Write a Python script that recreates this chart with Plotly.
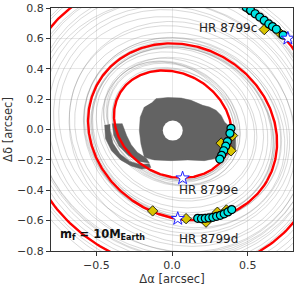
import numpy as np
import plotly.graph_objects as go

# ---------------- data ----------------
# fitted (red) projected orbits: centre x, centre y, semi-axis A, semi-axis B, tilt (deg)
red_cx = [0.005, 0.07, 0.0]
red_cy = [0.035, -0.015, 0.03]
red_A = [0.405, 0.645, 1.03]
red_B = [0.335, 0.56, 0.93]
red_th = [-30, -30, -33]

# sampled (grey) orbits
gray_A = [0.42, 0.44, 0.46, 0.43, 0.45, 0.47, 0.41, 0.49,
          0.63, 0.65, 0.62, 0.66, 0.60, 0.64, 0.67, 0.58, 0.61, 0.69,
          1.00, 1.05, 0.98, 1.08, 0.96, 1.02, 1.10, 0.94,
          0.75, 0.80, 0.85, 0.90, 0.72, 0.88, 0.78, 0.93, 0.55, 0.52]
gray_B = [0.35, 0.37, 0.38, 0.355, 0.37, 0.39, 0.34, 0.40,
          0.55, 0.57, 0.54, 0.575, 0.53, 0.56, 0.58, 0.51, 0.54, 0.60,
          0.90, 0.95, 0.88, 0.97, 0.87, 0.92, 1.00, 0.85,
          0.66, 0.70, 0.75, 0.80, 0.63, 0.78, 0.70, 0.82, 0.47, 0.45]
gray_cx = [0.01, 0.00, 0.01, 0.02, -0.01, 0.00, 0.01, 0.02,
           0.06, 0.05, 0.07, 0.08, 0.05, 0.06, 0.07, 0.04, 0.06, 0.08,
           0.00, 0.01, 0.00, 0.01, 0.02, -0.01, 0.01, 0.01,
           0.05, 0.03, 0.04, 0.02, 0.06, 0.03, 0.07, 0.01, 0.03, 0.04]
gray_cy = [0.04, 0.05, 0.04, 0.03, 0.05, 0.04, 0.03, 0.05,
           -0.01, 0.00, -0.02, -0.01, 0.00, -0.03, 0.00, 0.01, -0.01, -0.02,
           0.03, 0.02, 0.04, 0.02, 0.04, 0.03, 0.01, 0.03,
           0.00, 0.02, 0.01, 0.02, -0.01, 0.00, -0.02, 0.01, 0.02, 0.01]
gray_th = [-30, -28, -32, -25, -35, -30, -33, -27,
           -30, -28, -32, -26, -30, -34, -30, -28, -25, -32,
           -33, -30, -35, -32, -29, -36, -33, -31,
           -30, -28, -32, -30, -26, -34, -38, -24, -30, -27]

# stability region (test particles) outline
blob_x = [-0.128, -0.106, -0.028, 0.06, 0.126, 0.17, 0.203, 0.247, 0.291, 0.325, 0.347,
          0.40, 0.42, 0.42, 0.39, 0.325, 0.214, 0.104, -0.007, -0.117, -0.183,
          -0.205, -0.216, -0.21, -0.183]
blob_y = [0.181, 0.203, 0.21, 0.207, 0.192, 0.174, 0.159, 0.148, 0.126, 0.093, 0.049,
          0.0, -0.04, -0.13, -0.16, -0.183, -0.205, -0.2, -0.205, -0.2, -0.183,
          -0.095, -0.007, 0.081, 0.148]
tail1_x = [-0.445, -0.44, -0.40, -0.34, -0.27, -0.20, -0.14,
           -0.15, -0.21, -0.28, -0.345, -0.39, -0.41, -0.41]
tail1_y = [0.03, -0.06, -0.14, -0.20, -0.24, -0.26, -0.25,
           -0.225, -0.23, -0.21, -0.16, -0.09, -0.01, 0.035]
tail2_x = [-0.395, -0.385, -0.35, -0.29, -0.22, -0.15,
           -0.17, -0.23, -0.27, -0.30, -0.33]
tail2_y = [0.04, -0.04, -0.11, -0.17, -0.21, -0.22,
           -0.19, -0.15, -0.10, -0.04, 0.04]
hole_cx, hole_cy, hole_r = 0.005, -0.007, 0.066

# astrometry
c_x = [0.49, 0.52, 0.55, 0.58, 0.61, 0.64, 0.665, 0.69, 0.735]
c_y = [0.805, 0.785, 0.762, 0.74, 0.718, 0.695, 0.678, 0.66, 0.622]
d_x = [0.17, 0.195, 0.22, 0.245, 0.27, 0.295, 0.32, 0.345, 0.37, 0.395]
d_y = [-0.585, -0.587, -0.585, -0.582, -0.578, -0.572, -0.565, -0.555, -0.543, -0.527]
e_x = [0.39, 0.383, 0.366, 0.355, 0.342, 0.328, 0.316]
e_y = [0.008, -0.025, -0.08, -0.11, -0.14, -0.17, -0.195]

# predicted positions
dia_x = [0.51, 0.61, 0.715, -0.128, 0.093, 0.225, 0.30, 0.36, 0.40, 0.325, 0.39]
dia_y = [0.788, 0.658, 0.633, -0.536, -0.587, -0.61, -0.545, -0.53, -0.04, -0.09, -0.14]

# reference epoch positions
star_x = [0.07, 0.038, 0.766]
star_y = [-0.32, -0.587, 0.60]

labels = ["HR 8799c", "HR 8799e", "HR 8799d"]
label_x = [0.37, 0.24, 0.24]
label_y = [0.67, -0.40, -0.72]

x_ticks = [-0.5, 0.0, 0.5]
x_ticktext = ["\u22120.5", "0.0", "0.5"]
y_ticks = [-0.8, -0.6, -0.4, -0.2, 0.0, 0.2, 0.4, 0.6, 0.8]
y_ticktext = ["\u22120.8", "\u22120.6", "\u22120.4", "\u22120.2", "0.0", "0.2", "0.4", "0.6", "0.8"]


def ellipse(cx, cy, a, b, th_deg, n=361):
    t = np.linspace(0, 2 * np.pi, n)
    th = np.deg2rad(th_deg)
    x = cx + a * np.cos(t) * np.cos(th) - b * np.sin(t) * np.sin(th)
    y = cy + a * np.cos(t) * np.sin(th) + b * np.sin(t) * np.cos(th)
    return x, y


fig = go.Figure()

for i in range(len(gray_A)):
    x, y = ellipse(gray_cx[i], gray_cy[i], gray_A[i], gray_B[i], gray_th[i])
    fig.add_trace(go.Scatter(x=x, y=y, mode="lines", hoverinfo="skip",
                             line=dict(color="rgba(110,110,110,0.33)", width=0.8),
                             showlegend=False))

for bx, by in [(blob_x, blob_y), (tail1_x, tail1_y), (tail2_x, tail2_y)]:
    fig.add_trace(go.Scatter(x=bx, y=by, mode="lines", fill="toself",
                             fillcolor="#636363", line=dict(width=0.5, color="#636363"),
                             showlegend=False))

for i in range(len(red_A)):
    x, y = ellipse(red_cx[i], red_cy[i], red_A[i], red_B[i], red_th[i])
    fig.add_trace(go.Scatter(x=x, y=y, mode="lines",
                             line=dict(color="#ff0000", width=2.4),
                             showlegend=False))

fig.add_trace(go.Scatter(x=dia_x, y=dia_y, mode="markers",
                         marker=dict(symbol="diamond", size=8, color="#d8c400",
                                     line=dict(color="black", width=0.8)),
                         showlegend=False))

for xs, ys in [(c_x, c_y), (d_x, d_y), (e_x, e_y)]:
    fig.add_trace(go.Scatter(x=xs, y=ys, mode="markers",
                             marker=dict(symbol="circle", size=8, color="#00e4e4",
                                         line=dict(color="black", width=1.2)),
                             showlegend=False))

fig.add_trace(go.Scatter(x=star_x, y=star_y, mode="markers",
                         marker=dict(symbol="star", size=10, color="white",
                                     line=dict(color="#2020ff", width=1)),
                         showlegend=False))

for t, x, y in zip(labels, label_x, label_y):
    fig.add_annotation(x=x, y=y, text=t, showarrow=False,
                       font=dict(family="DejaVu Sans", size=12, color="#222"))

fig.add_annotation(x=-0.46, y=-0.69, text="<b>m<sub>f</sub> = 10M<sub>Earth</sub></b>",
                   showarrow=False, font=dict(family="DejaVu Sans", size=11.5, color="#111"))

fig.add_shape(type="circle", xref="x", yref="y",
              x0=hole_cx - hole_r, x1=hole_cx + hole_r,
              y0=hole_cy - hole_r, y1=hole_cy + hole_r,
              fillcolor="white", line=dict(width=0), layer="above")

axis_common = dict(showgrid=True, gridcolor="#e8e8e8", gridwidth=1, zeroline=False,
                   showline=True, mirror=True, linecolor="#333", linewidth=1,
                   ticks="outside", ticklen=4, tickcolor="#333", tickwidth=1,
                   tickfont=dict(family="DejaVu Sans", size=11, color="#333"),
                   tickmode="array", automargin=False)

fig.update_xaxes(range=[-0.8, 0.8], tickvals=x_ticks, ticktext=x_ticktext,
                 title=dict(text="\u0394\u03b1 [arcsec]", standoff=2,
                            font=dict(family="DejaVu Sans", size=11.5, color="#333")),
                 **axis_common)
fig.update_yaxes(range=[-0.8, 0.8], tickvals=y_ticks, ticktext=y_ticktext,
                 title=dict(text="\u0394\u03b4 [arcsec]", standoff=2,
                            font=dict(family="DejaVu Sans", size=11.5, color="#333")),
                 **axis_common)

fig.update_layout(width=300, height=287, margin=dict(l=51, r=7, t=8, b=36),
                  plot_bgcolor="white", paper_bgcolor="white", showlegend=False)

fig.write_html("out.html", config={"displayModeBar": False},
               post_script="document.body.style.margin='0';document.body.style.overflow='hidden';")
